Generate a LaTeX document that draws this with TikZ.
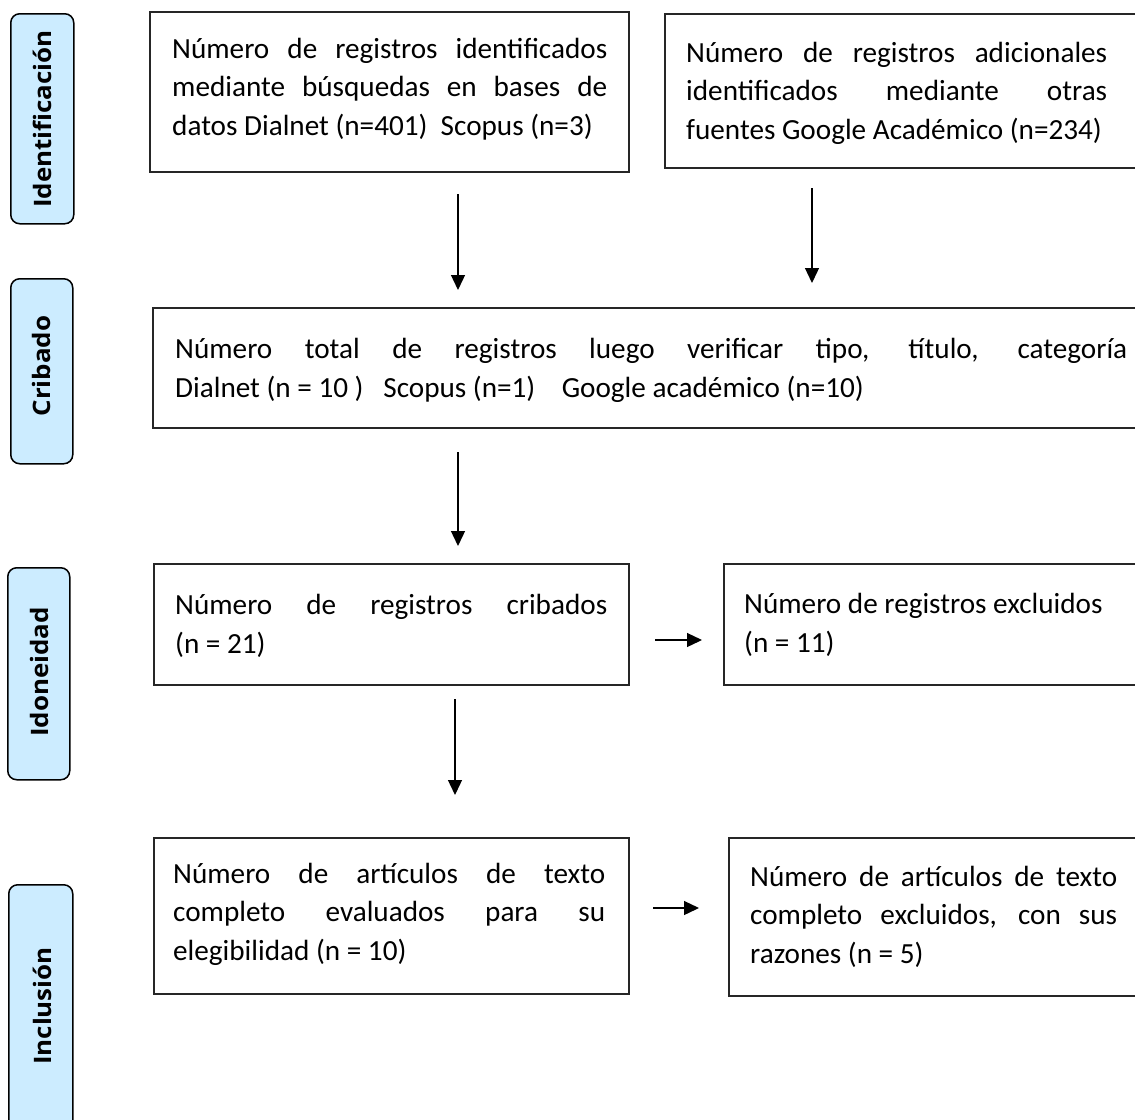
\documentclass[tikz,border=0pt]{standalone}
\usepackage{fontspec}
\setmainfont{Carlito}
\newfontfamily\labelfont{Open Sans}
\usetikzlibrary{arrows.meta}
\definecolor{phase}{RGB}{204,236,255}
\begin{document}
\begin{tikzpicture}[x=1pt,y=-1pt,
  box/.style={draw=black!85, line width=1.6pt, inner sep=0pt, anchor=north west},
  phasebox/.style={draw=black, fill=phase, line width=1.5pt, rounded corners=9pt, inner sep=0pt, anchor=north west},
  body/.style={anchor=base west, inner sep=0pt, align=left, font=\fontsize{29.2}{38.5}\selectfont},
  phaselabel/.style={rotate=90, inner sep=0pt, font=\labelfont\bfseries\fontsize{24}{28}\selectfont},
  arr/.style={-{Triangle[length=15pt,width=14pt]}, line width=1.3pt}]
\useasboundingbox (0,0) rectangle (1135,1119);
\clip (0,0) rectangle (1135,1119);

% phase boxes
\node[phasebox, minimum width=63pt, minimum height=210pt] (p1) at (10,13) {};
\node[phasebox, minimum width=62pt, minimum height=185pt] (p2) at (10,278) {};
\node[phasebox, minimum width=62pt, minimum height=212pt] (p3) at (7,567) {};
\node[phasebox, minimum width=64pt, minimum height=260pt] (p4) at (8,884) {};
\node[phaselabel] (l1) at (42,119) {\scalebox{1.08}[1]{Identificación}};
\node[phaselabel] (l2) at (41,366) {\scalebox{1.08}[1]{Cribado}};
\node[phaselabel] (l3) at (39,672) {\scalebox{1.08}[1]{Idoneidad}};
\node[phaselabel] (l4) at (42,1006) {\scalebox{1.08}[1]{Inclusión}};

% boxes
\node[box, minimum width=479pt, minimum height=160pt] (b1) at (149,11) {};
\node[box, minimum width=500pt, minimum height=154pt] (b2) at (664,13) {};
\node[box, minimum width=1010pt, minimum height=120pt] (b3) at (152,307) {};
\node[box, minimum width=475pt, minimum height=121pt] (b4) at (153,563) {};
\node[box, minimum width=450pt, minimum height=121pt] (b5) at (723,563) {};
\node[box, minimum width=475pt, minimum height=156pt] (b6) at (153,837) {};
\node[box, minimum width=450pt, minimum height=158pt] (b7) at (728,837) {};

% texts (anchored at the baseline of their last line)
\node[body] (t1) at (172,135) {\makebox[435pt][s]{Número de registros identificados}\\
  \makebox[435pt][s]{mediante búsquedas en bases de}\\
  datos Dialnet (n=401)\ \ Scopus (n=3)};
\node[body] (t2) at (686,139) {\makebox[421pt][s]{Número de registros adicionales}\\
  \makebox[421pt][s]{identificados mediante otras}\\
  fuentes Google Académico (n=234)};
\node[body] (t3) at (175,397) {\makebox[952pt][s]{Número total de registros luego verificar tipo, título, categoría}\\
  Dialnet (n = 10 )\ \ \ Scopus (n=1)\ \ \ \ Google académico (n=10)};
\node[body] (t4) at (175,653) {\makebox[432pt][s]{Número de registros cribados}\\
  (n = 21)};
\node[body] (t5) at (744,652) {Número de registros excluidos\\
  (n = 11)};
\node[body] (t6) at (173,960) {\makebox[432pt][s]{Número de artículos de texto}\\
  \makebox[432pt][s]{completo evaluados para su}\\
  elegibilidad (n = 10)};
\node[body] (t7) at (750,963) {\makebox[367pt][s]{Número de artículos de texto}\\
  \makebox[367pt][s]{completo excluidos, con sus}\\
  razones (n = 5)};

% arrow end points
\coordinate (a1s) at (458,194); \coordinate (a1e) at (458,290);
\coordinate (a2s) at (812,188); \coordinate (a2e) at (812,283);
\coordinate (a3s) at (458,452); \coordinate (a3e) at (458,546);
\coordinate (a4s) at (455,699); \coordinate (a4e) at (455,795);
\coordinate (a5s) at (655,640); \coordinate (a5e) at (702,640);
\coordinate (a6s) at (653,908); \coordinate (a6e) at (699,908);
\draw[arr] (a1s) -- (a1e);
\draw[arr] (a2s) -- (a2e);
\draw[arr] (a3s) -- (a3e);
\draw[arr] (a4s) -- (a4e);
\draw[arr] (a5s) -- (a5e);
\draw[arr] (a6s) -- (a6e);
\end{tikzpicture}
\end{document}
